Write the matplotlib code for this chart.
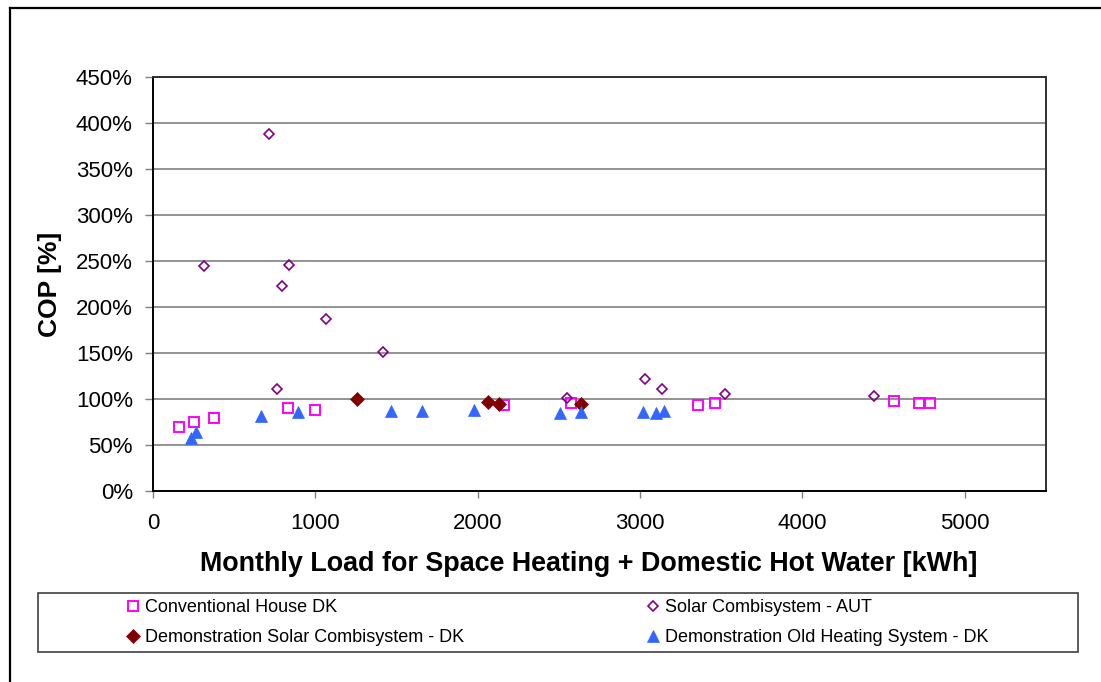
import matplotlib
matplotlib.use("Agg")
import matplotlib.pyplot as plt
from matplotlib.ticker import PercentFormatter, MultipleLocator
from matplotlib.lines import Line2D
from matplotlib.patches import Rectangle

plt.rcParams['font.family'] = ['Liberation Sans', 'DejaVu Sans']

# ---- data (monthly load kWh, COP %) ----
conv_x = [160, 255, 377, 834, 999, 2160, 2577, 3355, 3463, 4565, 4719, 4787]
conv_y = [69.5, 75.5, 79.5, 90, 88.5, 94, 95.6, 93.8, 96, 98.2, 95.3, 95.3]

aut_x = [312, 712, 762, 795, 840, 1064, 1417, 2551, 3033, 3135, 3525, 4442]
aut_y = [244.5, 388, 111, 223, 245.5, 186.5, 151.5, 101, 122, 110.6, 105.5, 103.6]

demo_solar_x = [1257, 2065, 2129, 2634]
demo_solar_y = [99.5, 96.3, 95, 94.2]

demo_old_x = [236, 265, 665, 893, 1464, 1659, 1977, 2506, 2636, 3017, 3097, 3149]
demo_old_y = [58, 64.5, 82, 85.5, 87.5, 87.5, 87.8, 85.2, 85.5, 86, 84.3, 86.5]

labels = ["Conventional House DK", "Solar Combisystem - AUT",
          "Demonstration Solar Combisystem - DK", "Demonstration Old Heating System - DK"]
xlabel = "Monthly Load for Space Heating + Domestic Hot Water [kWh]"
ylabel = "COP [%]"

W, H = 1101, 682
fig = plt.figure(figsize=(W / 100, H / 100), dpi=100)

def fx(px):
    return px / W

def fy(py):
    return 1 - py / H

ax = fig.add_axes([fx(153), fy(491), fx(1046 - 153), (491 - 77) / H])

h1, = ax.plot(conv_x, conv_y, ls='none', marker='s', ms=7.5, mfc='none',
              mec='#FF00FF', mew=1.4, label=labels[0])
h2, = ax.plot(aut_x, aut_y, ls='none', marker='D', ms=5.4, mfc='none',
              mec='#800080', mew=1.2, label=labels[1])
h3, = ax.plot(demo_solar_x, demo_solar_y, ls='none', marker='D', ms=7.6,
              mfc='#800000', mec='#800000', mew=0.5, label=labels[2])
h4, = ax.plot(demo_old_x, demo_old_y, ls='none', marker='^', ms=8.5,
              mfc='#3366FF', mec='#3366FF', mew=0.5, label=labels[3])

ax.set_xlim(0, 5500)
ax.set_ylim(0, 450)
ax.set_xticks([0, 1000, 2000, 3000, 4000, 5000])
ax.yaxis.set_major_locator(MultipleLocator(50))
ax.yaxis.set_major_formatter(PercentFormatter(xmax=100, decimals=0))

ax.grid(axis='y', color='#808080', lw=1.2)
ax.set_axisbelow(True)
for s in ['left', 'bottom']:
    ax.spines[s].set_color('black')
    ax.spines[s].set_linewidth(1.4)
for s in ['top', 'right']:
    ax.spines[s].set_color('#303030')
    ax.spines[s].set_linewidth(1.4)

ax.tick_params(axis='y', direction='out', length=6, width=1, color='#808080',
               labelsize=16, pad=8.5)
ax.tick_params(axis='x', direction='out', length=5, width=1, color='#808080',
               labelsize=16, pad=11)

fig.text(fx(50), fy(284), ylabel, rotation=90, ha='center', va='center',
         fontsize=19, fontweight='bold')
fig.text(fx(589), fy(564), xlabel, ha='center', va='center',
         fontsize=19.4, fontweight='bold')

# outer frame (left & top edges visible)
fig.add_artist(Line2D([fx(10), fx(10)], [fy(8), 0], color='black', lw=1.6,
                      transform=fig.transFigure))
fig.add_artist(Line2D([fx(10), 1], [fy(8), fy(8)], color='black', lw=1.6,
                      transform=fig.transFigure))

# legend frame
fig.add_artist(Rectangle((fx(38), fy(652)), fx(1078 - 38), (652 - 593) / H,
                         fill=False, edgecolor='#404040', lw=1.2,
                         transform=fig.transFigure))

legkw = dict(loc='center left', frameon=False, borderpad=0, borderaxespad=0,
             handlelength=0.8, handletextpad=0.25, labelspacing=0.72,
             fontsize=13, numpoints=1, bbox_transform=fig.transFigure)
leg1 = fig.legend([h1, h3], [labels[0], labels[2]],
                  bbox_to_anchor=(fx(126), fy(622.5)), **legkw)
leg2 = fig.legend([h2, h4], [labels[1], labels[3]],
                  bbox_to_anchor=(fx(646), fy(622.5)), **legkw)

fig.savefig("out.png", dpi=100)
